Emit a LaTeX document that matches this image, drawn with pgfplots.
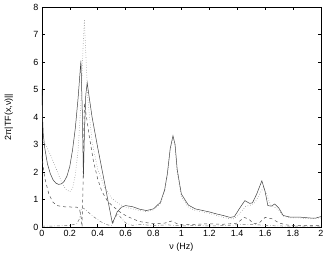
\documentclass[border=0pt]{standalone}
\usepackage{fontspec}
\setmainfont{Liberation Sans}
\usepackage{pgfplots}
\pgfplotsset{compat=1.18}
\begin{document}
\begin{tikzpicture}
\begin{axis}[
 scale only axis, width=279bp, height=220bp,
 xmin=0, xmax=2, ymin=0, ymax=8,
 xtick={0,0.2,0.4,0.6,0.8,1,1.2,1.4,1.6,1.8,2},
 xticklabels={0,0.2,0.4,0.6,0.8,1,1.2,1.4,1.6,1.8,2},
 ytick={0,1,2,3,4,5,6,7,8},
 yticklabels={0,1,2,3,4,5,6,7,8},
 tick align=inside, major tick length=3bp,
 tick style={black, line width=0.4pt},
 ticklabel style={font=\fontsize{9}{10}\selectfont},
 label style={font=\fontsize{9}{10}\selectfont},
 xlabel={ν (Hz)}, ylabel={2π|TF(x,ν)||},
 xlabel style={at={(axis description cs:0.5,-0.09)}, anchor=center},
 ylabel style={at={(axis description cs:-0.118,0.5)}, anchor=center},
 axis line style={black, line width=0.6pt},
 every axis plot/.append style={line width=0.5pt},
 clip mode=individual,
]
% solid
\addplot[black!75, solid] coordinates {
(0,5.0)(0.005,4.0)(0.01,3.4)(0.02,2.9)(0.04,2.3)(0.06,1.95)(0.08,1.72)(0.1,1.6)(0.12,1.55)(0.14,1.57)(0.16,1.66)(0.18,1.85)(0.2,2.2)(0.22,2.8)(0.24,3.6)(0.26,4.7)(0.28,6.05)(0.29,4.2)(0.298,1.8)(0.305,3.4)(0.315,4.8)(0.325,5.25)(0.34,4.7)(0.36,4.0)(0.4,2.9)(0.45,1.6)(0.48,0.8)(0.505,0.15)(0.52,0.3)(0.54,0.55)(0.57,0.72)(0.6,0.78)(0.65,0.74)(0.7,0.65)(0.75,0.6)(0.8,0.66)(0.85,0.9)(0.88,1.35)(0.9,1.95)(0.92,2.85)(0.94,3.32)(0.955,3.0)(0.97,2.1)(1.0,1.2)(1.05,0.8)(1.1,0.66)(1.2,0.55)(1.25,0.48)(1.3,0.42)(1.35,0.35)(1.38,0.38)(1.42,0.7)(1.455,0.96)(1.49,0.86)(1.51,0.88)(1.54,1.2)(1.577,1.68)(1.6,1.3)(1.62,0.78)(1.645,0.76)(1.67,0.84)(1.7,0.68)(1.73,0.42)(1.78,0.36)(1.85,0.36)(1.92,0.33)(1.96,0.32)(2.0,0.38)
};
% dotted
\addplot[black!50, dotted, line width=0.6pt] coordinates {
(0,3.15)(0.03,2.95)(0.06,2.65)(0.1,2.15)(0.14,1.65)(0.17,1.38)(0.2,1.28)(0.22,1.4)(0.24,1.9)(0.26,2.8)(0.28,4.5)(0.295,6.5)(0.305,7.55)(0.315,6.3)(0.33,4.6)(0.36,3.1)(0.4,2.1)(0.45,1.45)(0.5,1.05)(0.55,0.85)(0.6,0.72)(0.65,0.66)(0.7,0.6)(0.75,0.56)(0.8,0.62)(0.85,0.85)(0.88,1.3)(0.9,1.9)(0.92,2.8)(0.94,3.25)(0.955,2.95)(0.97,2.0)(1.0,1.1)(1.05,0.72)(1.1,0.6)(1.2,0.5)(1.25,0.42)(1.3,0.35)(1.35,0.3)(1.38,0.3)(1.42,0.5)(1.46,0.75)(1.5,0.8)(1.53,0.9)(1.56,1.2)(1.59,1.45)(1.61,1.2)(1.64,0.8)(1.67,0.72)(1.7,0.6)(1.73,0.4)(1.78,0.34)(1.85,0.33)(1.92,0.3)(2.0,0.33)
};
% dashed
\addplot[black!70, dashed] coordinates {
(0,2.6)(0.02,1.8)(0.05,1.2)(0.08,0.9)(0.11,0.78)(0.15,0.74)(0.2,0.73)(0.25,0.72)(0.27,0.66)(0.283,0.3)(0.288,0.0)(0.295,1.5)(0.305,4.5)(0.32,4.0)(0.34,3.3)(0.37,2.4)(0.4,1.75)(0.43,1.3)(0.47,0.95)(0.5,0.8)(0.55,0.58)(0.6,0.42)(0.65,0.3)(0.7,0.2)(0.8,0.12)(0.88,0.14)(0.93,0.22)(0.97,0.12)(1.0,0.08)(1.1,0.1)(1.2,0.12)(1.3,0.1)(1.4,0.14)(1.45,0.35)(1.48,0.3)(1.52,0.12)(1.56,0.16)(1.6,0.35)(1.65,0.3)(1.7,0.15)(1.75,0.08)(1.8,0.05)(2.0,0.05)
};
% dash-dot
\addplot[black!55, dash dot] coordinates {
(0,0.03)(0.1,0.04)(0.2,0.06)(0.25,0.12)(0.27,0.3)(0.285,0.7)(0.3,0.68)(0.33,0.55)(0.37,0.38)(0.42,0.2)(0.47,0.08)(0.5,0.05)(0.52,0.25)(0.54,0.5)(0.56,0.38)(0.6,0.15)(0.65,0.06)(0.7,0.1)(0.8,0.05)(0.9,0.08)(1.0,0.04)(1.1,0.06)(1.2,0.04)(1.3,0.05)(1.4,0.08)(1.5,0.1)(1.6,0.06)(1.7,0.04)(1.8,0.03)(2.0,0.03)
};
\path (axis description cs:-0.15,-0.13) (axis description cs:1.022,1.032);
\end{axis}
\end{tikzpicture}
\end{document}
